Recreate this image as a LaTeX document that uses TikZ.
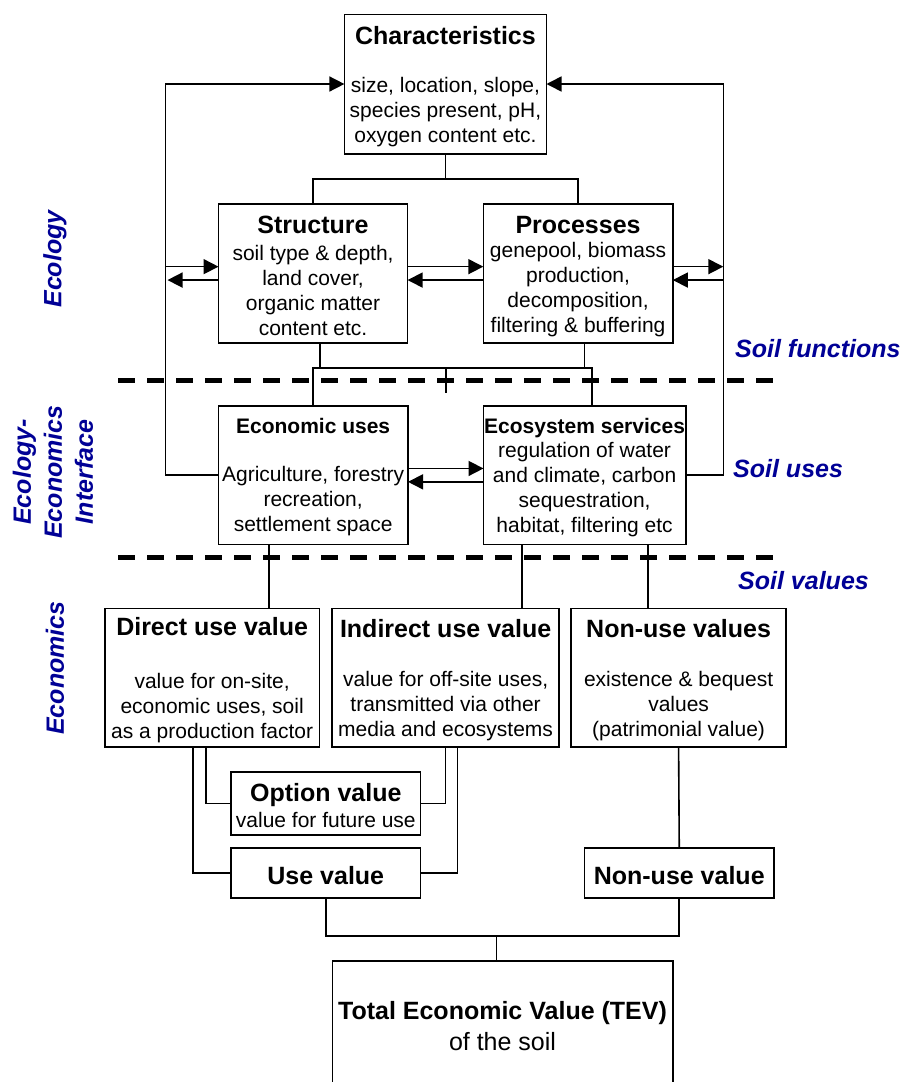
\documentclass[tikz,border=0pt]{standalone}
\usepackage{fontspec}
\setmainfont{Liberation Sans}
\usetikzlibrary{arrows.meta}
\definecolor{labelblue}{RGB}{0,0,150}
\begin{document}
\begin{tikzpicture}[x=1pt,y=-1pt,
  box/.style={draw=black,line width=1.6pt,inner sep=0pt,outer sep=0pt},
  ln/.style={line width=1.6pt},
  arr/.style={line width=1.6pt,-{Triangle[length=15pt,width=15pt]}},
  ttl/.style={font=\fontsize{25}{30}\selectfont\bfseries,anchor=base,inner sep=0pt},
  sttl/.style={font=\fontsize{21}{25}\selectfont\bfseries,anchor=base,inner sep=0pt},
  body/.style={font=\fontsize{21}{25}\selectfont,align=center,inner sep=0pt},
  side/.style={font=\fontsize{25}{31}\selectfont\bfseries\itshape,text=labelblue,inner sep=0pt},
  sep/.style={line width=5pt,dash pattern=on 17pt off 12pt}
]
\fill[white] (0,0) rectangle (904,1082);
\useasboundingbox (0,0) rectangle (904,1082);

% separators
\draw[sep] (118,380.7) -- (774,380.7);
\draw[sep] (118,557.7) -- (774,557.7);

% boxes
\node[box,minimum width=202.1pt,minimum height=139.4pt] (char) at (445.45,84) {};
\node[box,minimum width=189.1pt,minimum height=138.7pt] (struct) at (313.05,273.35) {};
\node[box,minimum width=189.5pt,minimum height=138.7pt] (proc) at (578.05,273.35) {};
\node[box,minimum width=189.7pt,minimum height=138.3pt] (econ) at (313.15,475.15) {};
\node[box,minimum width=202.2pt,minimum height=138.3pt] (eco) at (584.6,475.15) {};
\node[box,minimum width=214.9pt,minimum height=138.4pt] (direct) at (212.15,677.5) {};
\node[box,minimum width=227.2pt,minimum height=138.4pt] (indirect) at (445.6,677.5) {};
\node[box,minimum width=214.8pt,minimum height=138.4pt] (nonuses) at (678.6,677.5) {};
\node[box,minimum width=189.6pt,minimum height=63pt] (option) at (325.8,803.5) {};
\node[box,minimum width=189.6pt,minimum height=50pt] (usev) at (325.8,872.7) {};
\node[box,minimum width=189.5pt,minimum height=50pt] (nonusev) at (679.25,872.7) {};
\node[box,minimum width=340.4pt,minimum height=139pt] (tev) at (502.5,1030.5) {};

% texts
\node[ttl] (charT) at (445.45,44) {Characteristics};
\node[body] (charB) at (445.45,112.5) {size, location, slope,\\species present, pH,\\oxygen content etc.};
\node[ttl] (structT) at (313.05,233) {Structure};
\node[body] (structB) at (313.05,290) {soil type \& depth,\\land cover,\\organic matter\\content etc.};
\node[ttl] (procT) at (578.05,233) {Processes};
\node[body] (procB) at (578.05,290) {genepool, biomass\\production,\\decomposition,\\filtering \& buffering};
\node[sttl] (econT) at (313.15,433.5) {Economic uses};
\node[body] (econB) at (313.15,501.2) {Agriculture, forestry\\recreation,\\settlement space};
\node[sttl] (ecoT) at (584.6,433.5) {Ecosystem services};
\node[body] (ecoB) at (584.6,489.2) {regulation of water\\and climate, carbon\\sequestration,\\habitat, filtering etc};
\node[ttl] (directT) at (212.15,635.7) {Direct use value};
\node[body] (directB) at (212.15,708.3) {value for on-site,\\economic uses, soil\\as a production factor};
\node[ttl] (indirectT) at (445.6,637) {Indirect use value};
\node[body] (indirectB) at (445.6,705.7) {value for off-site uses,\\transmitted via other\\media and ecosystems};
\node[ttl] (nonusesT) at (678.6,637) {Non-use values};
\node[body] (nonusesB) at (678.6,705.7) {existence \& bequest\\values\\(patrimonial value)};
\node[ttl] (optionT) at (325.8,801.3) {Option value};
\node[body,anchor=base] (optionB) at (325.8,827) {value for future use};
\node[ttl] (usevT) at (325.8,884) {Use value};
\node[ttl] (nonusevT) at (679.25,884) {Non-use value};
\node[ttl] (tevT) at (502.5,1019.7) {Total Economic Value (TEV)};
\node[font=\fontsize{25}{30}\selectfont,anchor=base,inner sep=0pt] (tevB) at (502.5,1050) {of the soil};

% side labels
\node[side,anchor=base west] (lfun) at (735,357) {Soil functions};
\node[side,anchor=base west] (luse) at (733,477) {Soil uses};
\node[side,anchor=base west] (lval) at (738,589) {Soil values};
\node[side,rotate=90] (leco) at (55,259) {Ecology};
\node[side,rotate=90,align=center] (lint) at (53,472) {Ecology-\\Economics\\Interface};
\node[side,rotate=90] (lecn) at (55,668) {Economics};

% coordinates
\coordinate (L1) at (165.5,84);
\coordinate (L2) at (165.5,475.15);
\coordinate (R1) at (723.3,84);
\coordinate (R2) at (723.3,475.15);
\coordinate (j1) at (445.45,179);
\coordinate (j2) at (446,367.7);
\coordinate (j3) at (496.3,936);

% characteristics feedback loops
\draw[arr] (econ.west) -- (L2) -- (L1) -- (char.west);
\draw[arr] (eco.east) -- (R2) -- (R1) -- (char.east);

% characteristics to structure/processes
\draw[ln] (char.south) -- (j1);
\draw[ln] (struct.north) |- (j1) -| (proc.north);

% side arrows of structure / processes
\coordinate (sw1) at ([yshift=6.7pt]struct.west);
\coordinate (sw2) at ([yshift=-6.7pt]struct.west);
\coordinate (se1) at ([yshift=6.7pt]struct.east);
\coordinate (pw2) at ([yshift=-6.7pt]proc.west);
\coordinate (pe1) at ([yshift=6.7pt]proc.east);
\coordinate (pe2) at ([yshift=-6.7pt]proc.east);
\coordinate (Lb) at ([xshift=2pt]L1);
\draw[arr] (sw1 -| L1) -- (sw1);
\draw[arr] (sw2) -- (sw2 -| Lb);
\draw[arr] (se1) -- (se1 -| proc.west);
\draw[arr] (pw2) -- (pw2 -| struct.east);
\draw[arr] (pe1) -- (pe1 -| R1);
\draw[arr] (pe2 -| R1) -- (pe2);

% economic uses <-> ecosystem services
\coordinate (ce1) at ([yshift=6.7pt]econ.east);
\coordinate (ew2) at ([yshift=-6.7pt]eco.west);
\draw[arr] (ce1) -- (ce1 -| eco.west);
\draw[arr] (ew2) -- (ew2 -| econ.east);

% structure/processes to uses
\coordinate (ss) at ([xshift=7pt]struct.south);
\coordinate (ps) at ([xshift=6.4pt]proc.south);
\coordinate (en) at ([xshift=7.4pt]eco.north);
\draw[ln] (ss) |- (j2) -| (ps);
\draw[ln] (econ.north) |- (j2) -| (en);
\draw[ln] (j2) -- ++(0,25.3);

% uses to values
\coordinate (es) at ([xshift=-44.4pt]econ.south);
\coordinate (os1) at ([xshift=-62.7pt]eco.south);
\coordinate (os2) at ([xshift=63.2pt]eco.south);
\draw[ln] (es) -- (es |- direct.north);
\draw[ln] (os1) -- (os1 |- indirect.north);
\draw[ln] (os2) -- (os2 |- nonuses.north);

% values to option / use value
\coordinate (d1) at ([xshift=-6.45pt]direct.south);
\coordinate (d2) at ([xshift=-19.35pt]direct.south);
\coordinate (i2) at ([xshift=11.7pt]indirect.south);
\draw[ln] (d1) |- (option.west);
\draw[ln] (d2) |- (usev.west);
\draw[ln] (indirect.south) |- (option.east);
\draw[ln] (i2) |- (usev.east);
\draw[ln] (nonuses.south) -- (nonusev.north);

% to TEV
\draw[ln] (usev.south) |- (j3) -| (nonusev.south);
\draw[ln] (j3) -- (j3 |- tev.north);
\end{tikzpicture}
\end{document}
